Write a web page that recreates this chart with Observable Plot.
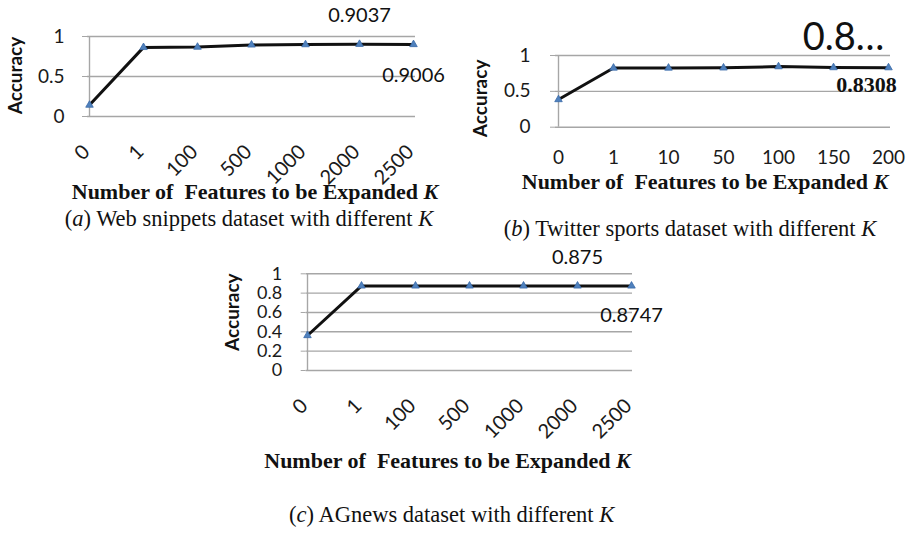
<!DOCTYPE html>
<html><head><meta charset="utf-8">
<script src="https://cdn.jsdelivr.net/npm/d3@7"></script>
<script src="https://cdn.jsdelivr.net/npm/@observablehq/plot@0.6"></script>
<style>
body{margin:0;background:#fff;}
#wrap{position:relative;width:916px;height:533px;overflow:hidden;background:#fff;}
.panel{position:absolute;}
.t{position:absolute;white-space:pre;text-align:center;font-family:"Liberation Serif","Times New Roman",serif;color:#111;line-height:1;}
.ax{font-weight:bold;font-size:22px;}
.cap{font-size:22.5px;}
</style></head><body><div id="wrap"></div>
<script>
// ---- data ----
const kA = ["0","1","100","500","1000","2000","2500"];
const accA = [0.143, 0.864, 0.868, 0.895, 0.899, 0.9037, 0.9006];
const ticksA = [0, 0.5, 1];
const notesA = [{k:"2000", v:0.9037, label:"0.9037"}, {k:"2500", v:0.9006, label:"0.9006"}];

const kB = ["0","1","10","50","100","150","200"];
const accB = [0.386, 0.826, 0.826, 0.828, 0.845, 0.832, 0.8308];
const ticksB = [0, 0.5, 1];
const notesB = [{k:"150", v:0.832, label:"0.8…"}, {k:"200", v:0.8308, label:"0.8308"}];

const kC = ["0","1","100","500","1000","2000","2500"];
const accC = [0.362, 0.875, 0.875, 0.875, 0.875, 0.875, 0.8747];
const ticksC = [0, 0.2, 0.4, 0.6, 0.8, 1];
const notesC = [{k:"2000", v:0.875, label:"0.875"}, {k:"2500", v:0.8747, label:"0.8747"}];

const yTitle = "Accuracy";
const xTitle = "Number of  Features to be Expanded ";
const captions = [["a", " Web snippets dataset with different "], ["b", " Twitter sports dataset with different "], ["c", " AGnews dataset with different "]];

// ---- drawing ----
const wrap = document.getElementById("wrap");
const GRID = "#a6a6a6";
const SANS = "Lato, 'Open Sans', sans-serif";

function panel(cfg) {
  const data = cfg.cats.map((k, i) => ({k, v: cfg.vals[i]}));
  const noteStyle = (n, o) => Plot.text([n], Object.assign({x: "k", y: "v", text: "label", fill: "#111", fontFamily: SANS, fontSize: 20}, o));
  const chart = Plot.plot({
    width: cfg.width, height: cfg.height,
    marginLeft: cfg.mL, marginRight: cfg.mR, marginTop: cfg.mT, marginBottom: cfg.mB,
    style: {background: "transparent", fontFamily: SANS, fontSize: "19px", color: "#1a1a1a", overflow: "visible"},
    x: {type: "point", domain: cfg.cats, padding: 0, label: null},
    y: {domain: [0, 1], label: null},
    marks: [
      Plot.gridY(cfg.yTicks, {stroke: GRID, strokeOpacity: 1, strokeWidth: 1.4}),
      Plot.ruleX([cfg.cats[0]], {stroke: GRID, strokeWidth: 1.4}),
      Plot.axisY(cfg.yTicks, {tickSize: 5, tickPadding: cfg.yPad, stroke: GRID, fontSize: cfg.yFont, tickFormat: d => String(d)}),
      Plot.axisX({tickSize: 0, tickPadding: cfg.xPad, tickRotate: cfg.rotate, fontSize: cfg.xFont, dx: cfg.xDx}),
      Plot.text([yTitle], {frameAnchor: "left", textAnchor: "middle", rotate: -90, dx: cfg.accDx, dy: cfg.accDy, fontWeight: "bold", fontSize: 19, fill: "#111"}),
      Plot.line(data, {x: "k", y: "v", stroke: "#111", strokeWidth: 3}),
      Plot.dot(data, {x: "k", y: "v", symbol: "triangle", r: 2.8, fill: "#4f81bd", stroke: "#3a6aa8", strokeWidth: 0.8}),
      ...cfg.notes(noteStyle)
    ]
  });
  chart.classList.add("panel");
  chart.style.left = cfg.left + "px";
  chart.style.top = cfg.top + "px";
  wrap.appendChild(chart);
}

panel({cats: kA, vals: accA, yTicks: ticksA, width: 460, height: 190, mL: 87, mR: 45, mT: 36, mB: 74,
  left: 0, top: 0, rotate: -45, xPad: 32, xFont: 20, xDx: -3, yPad: 18, yFont: 19, accDx: -72, accDy: -1,
  notes: s => [s(notesA[0], {dy: -29}), s(notesA[1], {dy: 31})]});

panel({cats: kB, vals: accB, yTicks: ticksB, width: 456, height: 172, mL: 95, mR: 26, mT: 55, mB: 45.3,
  left: 460, top: 0, rotate: 0, xPad: 23, xFont: 19, xDx: 0, yPad: 20, yFont: 19, accDx: -75, accDy: 7,
  notes: s => [s(notesB[0], {dx: 10, dy: -30, fontSize: 38}),
               s(notesB[1], {dx: -22, dy: 17, fontSize: 22, fontWeight: "bold", fontFamily: "'Liberation Serif', serif"})]});

panel({cats: kC, vals: accC, yTicks: ticksC, width: 480, height: 215, mL: 105.7, mR: 48, mT: 33.3, mB: 85,
  left: 200, top: 240, rotate: -45, xPad: 32, xFont: 20, xDx: -3, yPad: 19, yFont: 18, accDx: -73, accDy: -10,
  notes: s => [s(notesC[0], {dy: -28}), s(notesC[1], {dy: 30})]});

// axis titles and captions (HTML)
function addText(cls, html, cx, top) {
  const d = document.createElement("div");
  d.className = "t " + cls;
  d.style.left = (cx - 300) + "px";
  d.style.width = "600px";
  d.style.top = top + "px";
  d.innerHTML = html;
  wrap.appendChild(d);
}
const axHtml = xTitle + "<i>K</i>";
const capHtml = c => "(<i>" + c[0] + "</i>)" + c[1] + "<i>K</i>";
addText("ax", axHtml, 255, 180.6);
addText("cap", capHtml(captions[0]), 249, 208.2);
addText("ax", axHtml, 705, 171);
addText("cap", capHtml(captions[1]), 690, 218.2);
addText("ax", axHtml, 447.5, 449.6);
addText("cap", capHtml(captions[2]), 451.7, 504.2);
</script></body></html>
